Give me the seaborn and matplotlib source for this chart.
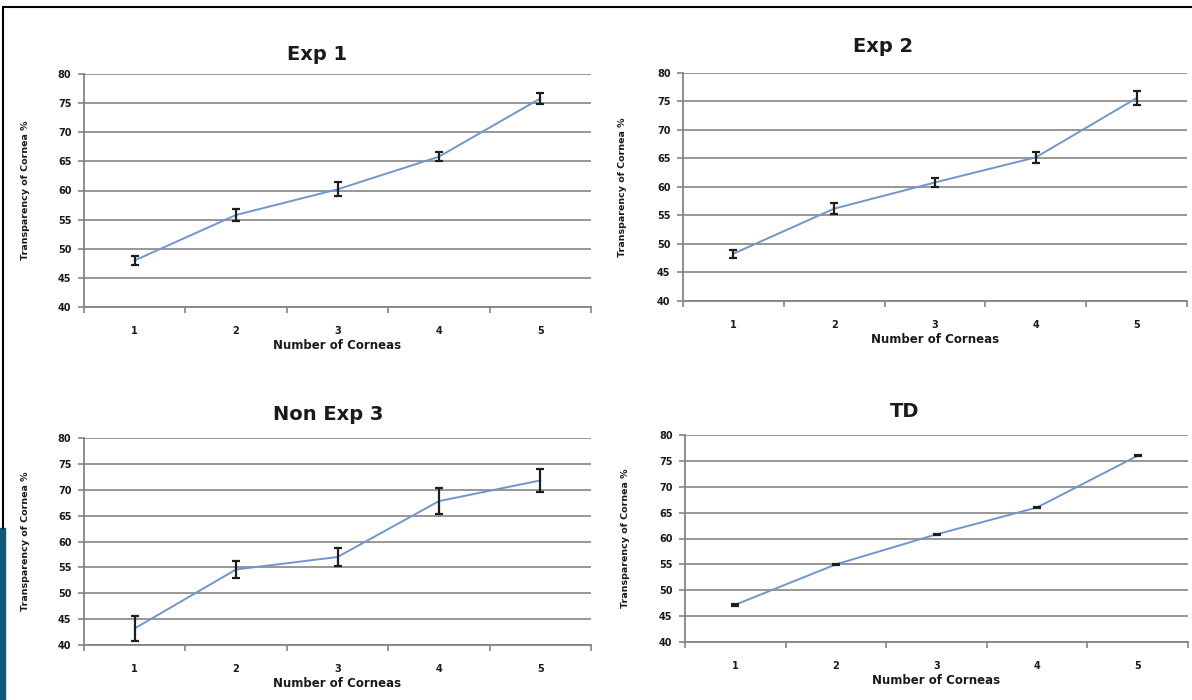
import numpy as np
import pandas as pd
import matplotlib
matplotlib.use("Agg")
import matplotlib.pyplot as plt
import seaborn as sns
from matplotlib.patches import Rectangle
from matplotlib.lines import Line2D

sns.set_theme(style="white")
plt.rcParams['font.family'] = ['DejaVu Sans']
plt.rcParams['text.color'] = '#1a1a1a'
plt.rcParams['axes.labelcolor'] = '#1a1a1a'
plt.rcParams['xtick.color'] = '#1a1a1a'
plt.rcParams['ytick.color'] = '#1a1a1a'

# data
corneas = [1, 2, 3, 4, 5]
titles = ["Exp 1", "Exp 2", "Non Exp 3", "TD"]
exp1 = [48.0, 55.8, 60.2, 65.8, 75.8]
exp1_err = [0.8, 1.0, 1.2, 0.8, 0.9]
exp2 = [48.3, 56.2, 60.8, 65.2, 75.6]
exp2_err = [0.7, 1.0, 0.8, 1.0, 1.2]
nonexp3 = [43.2, 54.6, 57.0, 67.8, 71.8]
nonexp3_err = [2.4, 1.7, 1.7, 2.5, 2.3]
td = [47.2, 55.0, 60.8, 66.0, 76.0]
td_err = [0.15, 0.15, 0.15, 0.15, 0.15]
y_ticks = [40, 45, 50, 55, 60, 65, 70, 75, 80]

series = [exp1, exp2, nonexp3, td]
errors = [exp1_err, exp2_err, nonexp3_err, td_err]

W, H = 1192, 700
fig = plt.figure(figsize=(W / 100, H / 100), dpi=100)

# axes boxes in pixels: left, top, right, bottom
boxes = [(84, 74, 591, 307), (683, 73, 1187, 301),
         (84, 438, 591, 645), (685, 435, 1188, 642)]
title_pos = [(317, 55), (883, 47), (328, 415), (905, 412)]
ylab_x = [30, 627, 30, 630]

grid_col = "#858585"
line_col = "#6f97cc"

for i in range(4):
    l, t, r, b = boxes[i]
    ax = fig.add_axes([l / W, 1 - b / H, (r - l) / W, (b - t) / H])
    df = pd.DataFrame({"n": corneas, "val": series[i]})
    sns.lineplot(data=df, x="n", y="val", ax=ax, color=line_col, lw=1.4,
                 errorbar=None)
    ax.errorbar(corneas, series[i], yerr=errors[i], fmt="none",
                ecolor="#1e1e1e", elinewidth=1.6, capsize=3.2, capthick=1.6,
                zorder=3)
    ax.set_xlim(0.5, 5.5)
    ax.set_ylim(40, 80)
    ax.set_yticks(y_ticks)
    ax.set_yticklabels([str(v) for v in y_ticks], fontsize=7,
                       fontweight="bold")
    ax.set_xticks(corneas)
    ax.set_xticklabels([str(c) for c in corneas], fontsize=7,
                       fontweight="bold")
    ax.set_xticks(np.arange(0.5, 6.0, 1.0), minor=True)
    ax.tick_params(axis="x", which="major", length=0, pad=14, bottom=True)
    ax.tick_params(axis="x", which="minor", length=4, width=1.2,
                   color=grid_col, direction="out", bottom=True)
    ax.tick_params(axis="y", length=4, width=1.2, color=grid_col, pad=5,
                   left=True)
    for v in y_ticks:
        ax.axhline(v, color=grid_col, lw=1.2, zorder=0)
    for s in ["top", "right"]:
        ax.spines[s].set_visible(False)
    for s in ["left", "bottom"]:
        ax.spines[s].set_color(grid_col)
        ax.spines[s].set_linewidth(1.3)
    ax.set_xlabel("Number of Corneas", fontsize=8.5, fontweight="bold",
                  labelpad=2)
    ax.set_ylabel("Transparency of Cornea %", fontsize=6.8,
                  fontweight="bold")
    ax.yaxis.set_label_coords((ylab_x[i] - l) / (r - l), 0.5)
    ax.set_facecolor("white")
    fig.text(title_pos[i][0] / W, 1 - title_pos[i][1] / H, titles[i],
             fontsize=14, fontweight="bold", ha="center", va="center")

# slide frame
fig.add_artist(Line2D([3 / W, 1], [1 - 7 / H, 1 - 7 / H], color="black",
                      lw=1.5, transform=fig.transFigure))
fig.add_artist(Line2D([3 / W, 3 / W], [1 - 7 / H, 1 - 528 / H],
                      color="black", lw=1.5, transform=fig.transFigure))
fig.add_artist(Rectangle((0, 0), 5 / W, 1 - 528 / H, color="#0b5a78",
                         transform=fig.transFigure))

fig.savefig("out.png", dpi=100)
